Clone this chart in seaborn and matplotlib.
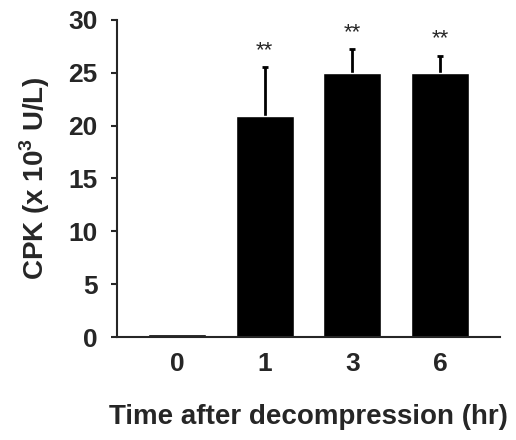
import numpy as np
import pandas as pd
import seaborn as sns
import matplotlib.pyplot as plt

times = ['0', '1', '3', '6']
cpk = [0.3, 20.9, 25.0, 25.0]
sem = [0.0, 4.6, 2.2, 1.6]
stars = ['', '**', '**', '**']

sns.set_style('ticks')
plt.rcParams['font.family'] = ['Liberation Sans', 'DejaVu Sans']
plt.rcParams['font.weight'] = 'bold'
plt.rcParams['mathtext.fontset'] = 'custom'
plt.rcParams['mathtext.bf'] = 'Liberation Sans:bold'

df = pd.DataFrame({'time': times, 'cpk': cpk})

fig = plt.figure(figsize=(5.16, 4.4), dpi=100)
ax = fig.add_axes([0.227, 0.234, 0.742, 0.721])
sns.barplot(data=df, x='time', y='cpk', color='black', width=0.66,
            saturation=1, errorbar=None, ax=ax, zorder=2)

# symmetric error bars drawn behind the bars, so only the upper half shows
x = np.arange(len(times))
ax.errorbar(x[1:], cpk[1:], yerr=sem[1:], fmt='none', ecolor='black',
            elinewidth=2, capsize=2.5, capthick=2, zorder=1)
for xi, v, e, s in zip(x, cpk, sem, stars):
    ax.text(xi, v + e + 1.1, s, ha='center', va='baseline', fontsize=16,
            fontweight='normal')

ax.set_xlim(-0.68, 3.68)
ax.set_ylim(0, 30)
ax.set_yticks(range(0, 31, 5))
ax.tick_params(axis='y', length=4, width=1.5, labelsize=19, pad=10)
ax.tick_params(axis='x', length=0, labelsize=19, pad=11)
for lbl in ax.get_xticklabels() + ax.get_yticklabels():
    lbl.set_fontweight('bold')
ax.set_xlabel('Time after decompression (hr)', fontsize=20,
              fontweight='bold', labelpad=20)
ax.set_ylabel('CPK (x 10$^\\mathbf{3}$ U/L)', fontsize=20,
              fontweight='bold', labelpad=12)
sns.despine(ax=ax)
ax.spines['left'].set_linewidth(1.5)
ax.spines['bottom'].set_linewidth(1.5)

fig.savefig('out.png', dpi=100)
